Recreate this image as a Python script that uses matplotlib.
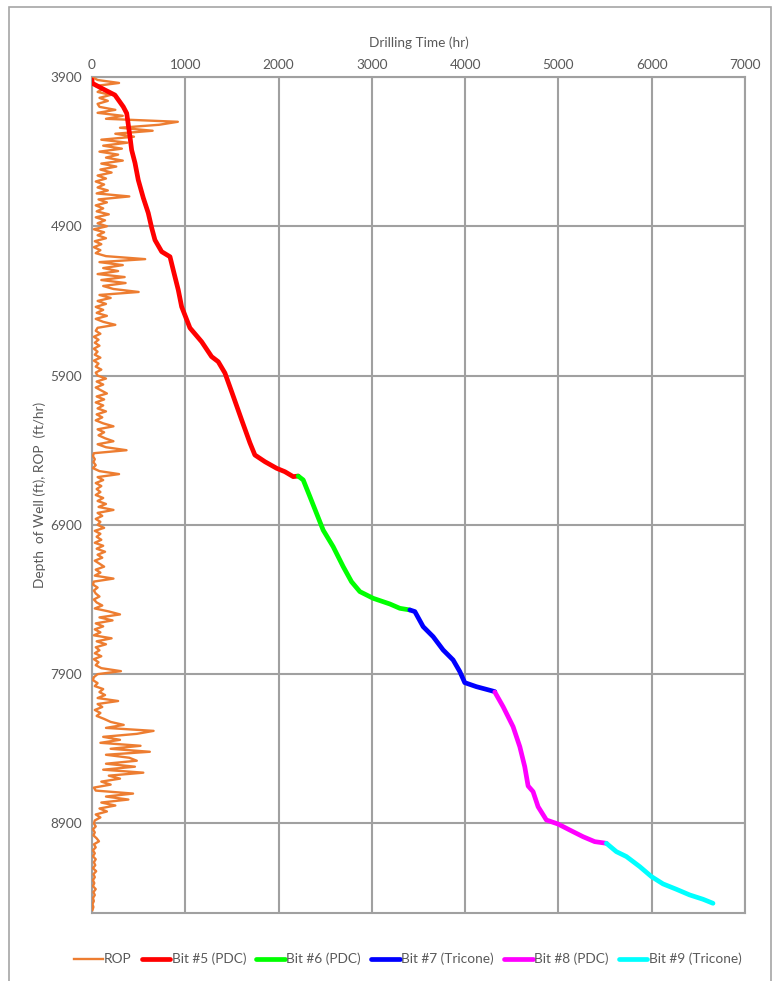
import numpy as np
import matplotlib.pyplot as plt
from matplotlib.patches import Rectangle

plt.rcParams['font.family'] = ['Lato', 'DejaVu Sans']

# ROP log, one reading every 20 ft from 3900 ft
rop_depth = np.arange(3900, 9500, 20)
rop_ft_hr = [
    0, 60, 290, 40, 120, 60, 200, 80, 170, 60,
    80, 250, 60, 330, 150, 920, 720, 300, 650, 250,
    450, 100, 380, 120, 320, 80, 280, 150, 330, 100,
    260, 90, 210, 60, 150, 40, 130, 60, 170, 50,
    400, 70, 160, 40, 120, 50, 180, 40, 140, 60,
    160, 20, 130, 60, 150, 30, 100, 20, 90, 40,
    150, 570, 80, 330, 120, 280, 60, 350, 100, 360,
    120, 230, 500, 80, 200, 60, 150, 40, 120, 50,
    160, 40, 120, 250, 60, 40, 90, 20, 70, 30,
    80, 20, 60, 30, 90, 20, 70, 40, 100, 40,
    60, 150, 50, 120, 40, 100, 160, 50, 130, 40,
    120, 60, 150, 50, 110, 40, 120, 230, 60, 130,
    70, 140, 230, 60, 150, 370, 20, 10, 30, 15,
    40, 10, 80, 290, 60, 120, 40, 100, 50, 90,
    40, 120, 60, 150, 70, 230, 60, 110, 40, 90,
    60, 130, 30, 90, 50, 100, 30, 120, 50, 140,
    60, 110, 30, 80, 130, 40, 90, 30, 230, 20,
    10, 60, 20, 40, 80, 20, 50, 110, 30, 180,
    300, 80, 220, 40, 120, 30, 90, 20, 210, 50,
    150, 40, 80, 30, 100, 20, 70, 40, 100, 310,
    60, 20, 10, 60, 30, 120, 80, 140, 60, 280,
    60, 110, 30, 90, 50, 130, 200, 340, 150, 660,
    480, 120, 300, 90, 520, 200, 620, 150, 400, 480,
    150, 460, 120, 550, 180, 300, 100, 200, 20, 40,
    440, 150, 390, 100, 250, 80, 160, 40, 90, 30,
    20, 40, 10, 30, 15, 50, 75, 20, 40, 10,
    30, 10, 40, 20, 35, 10, 45, 15, 30, 10,
    25, 10, 40, 15, 30, 10, 20, 5, 15, 5,
]

# drilling time (hr) vs depth (ft) for each bit run
bit5_time = [0, 3, 139, 246, 335, 372, 407, 425, 461, 496, 550, 603, 640, 675, 747, 836,
             871, 925, 961, 1050, 1175, 1282, 1353, 1425, 1497, 1604, 1693, 1746, 1854,
             1979, 2068, 2157, 2210]
bit5_depth = [3920, 3942, 3987, 4021, 4099, 4143, 4300, 4389, 4476, 4590, 4710, 4811, 4911,
              4992, 5070, 5104, 5193, 5327, 5439, 5581, 5673, 5773, 5807, 5883, 6008, 6197,
              6351, 6432, 6477, 6521, 6544, 6577, 6573]

bit6_time = [2210, 2264, 2336, 2407, 2478, 2585, 2693, 2782, 2871, 3014, 3193, 3300, 3407]
bit6_depth = [6573, 6599, 6711, 6823, 6935, 7046, 7180, 7281, 7347, 7392, 7430, 7459, 7470]

bit7_time = [3407, 3461, 3550, 3657, 3764, 3871, 3943, 3996, 4121, 4318]
bit7_depth = [7470, 7481, 7582, 7649, 7738, 7805, 7883, 7957, 7984, 8017]

bit8_time = [4318, 4407, 4514, 4586, 4639, 4675, 4728, 4782, 4871, 4996, 5121, 5264, 5389, 5514]
bit8_depth = [8020, 8118, 8252, 8386, 8520, 8649, 8687, 8788, 8877, 8904, 8944, 8989, 9022, 9033]

bit9_time = [5514, 5621, 5729, 5871, 5997, 6121, 6264, 6407, 6550, 6657]
bit9_depth = [9033, 9089, 9122, 9189, 9256, 9305, 9341, 9379, 9408, 9435]

bits = [
    ('Bit #5 (PDC)', bit5_time, bit5_depth, '#ff0000'),
    ('Bit #6 (PDC)', bit6_time, bit6_depth, '#00ff00'),
    ('Bit #7 (Tricone)', bit7_time, bit7_depth, '#0000ff'),
    ('Bit #8 (PDC)', bit8_time, bit8_depth, '#ff00ff'),
    ('Bit #9 (Tricone)', bit9_time, bit9_depth, '#00ffff'),
]

x_ticks = [0, 1000, 2000, 3000, 4000, 5000, 6000, 7000]
y_ticks = [3900, 4900, 5900, 6900, 7900, 8900]

text_color = '#595959'
grid_color = '#a0a0a0'
fs = 9.8

fig = plt.figure(figsize=(7.78, 9.81), dpi=100)
ax = fig.add_axes([92 / 778, 68 / 981, 653 / 778, 836 / 981])

ax.plot(rop_ft_hr, rop_depth, color='#ed7d31', linewidth=1.7, label='ROP', zorder=3)
for name, t, d, c in bits:
    ax.plot(t, d, color=c, linewidth=3.4, label=name, solid_capstyle='round', zorder=4)

ax.set_xlim(0, 7000)
ax.set_ylim(9500, 3900)
ax.set_xticks(x_ticks)
ax.set_yticks(y_ticks)
ax.xaxis.tick_top()
ax.xaxis.set_label_position('top')
ax.tick_params(axis='x', length=0, labelsize=fs, colors=text_color, pad=4)
ax.tick_params(axis='y', length=0, labelsize=fs, colors=text_color, pad=7)
ax.set_xlabel('Drilling Time (hr)', fontsize=fs, color=text_color, labelpad=9)
ax.set_ylabel('Depth  of Well (ft), ROP  (ft/hr)', fontsize=fs, color=text_color, labelpad=3)

ax.grid(True, color=grid_color, linewidth=1.5)
ax.set_axisbelow(True)
for s in ax.spines.values():
    s.set_color(grid_color)
    s.set_linewidth(1.5)

# chart frame around everything
fig.patches.append(Rectangle((9 / 778, -0.02), 762 / 778, 1.02 - 7 / 981,
                             transform=fig.transFigure, fill=False,
                             edgecolor='#a6a6a6', linewidth=1.2))

fig.legend(loc='center', bbox_to_anchor=(0.524, 0.0224), ncol=6, frameon=False,
           fontsize=fs, handlelength=2.1, handletextpad=0.1, columnspacing=0.75,
           labelcolor=text_color)

fig.savefig('out.png', dpi=100)
